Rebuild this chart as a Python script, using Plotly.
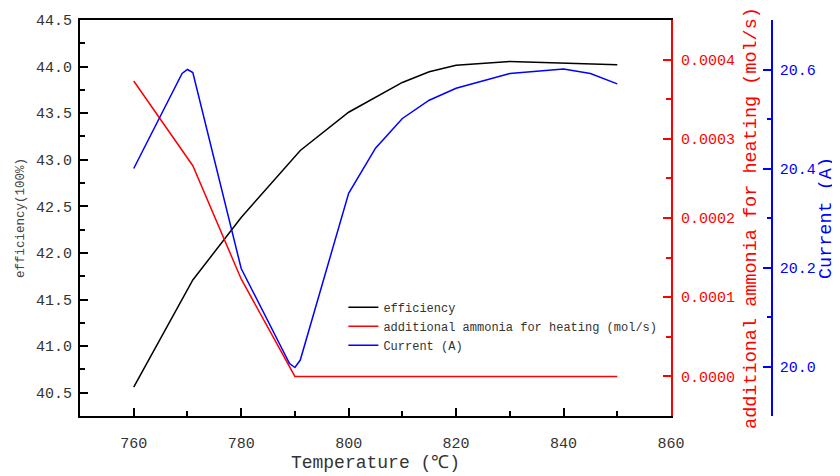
import plotly.graph_objects as go

# Data
temp_eff = [760, 771, 780, 791, 800, 810, 815, 820, 830, 840, 850]
efficiency = [40.56, 41.71, 42.38, 43.10, 43.51, 43.83, 43.945, 44.015, 44.055, 44.035, 44.02]

temp_nh3 = [760, 771, 780, 790, 800, 810, 820, 830, 840, 850]
ammonia = [0.000373, 0.000266, 0.000123, 0.0, 0.0, 0.0, 0.0, 0.0, 0.0, 0.0]

temp_cur = [760, 769, 770, 771, 780, 789, 790, 791, 800, 805, 810, 815, 820, 830, 840, 845, 850]
current = [20.400, 20.592, 20.600, 20.594, 20.198, 20.006, 19.998, 20.013, 20.350, 20.441,
           20.501, 20.538, 20.562, 20.592, 20.601, 20.592, 20.571]

FONT = "'Liberation Mono', 'Courier New', monospace"
RED = "#ff0000"
BLUE = "#0000ff"
GRAY = "#333333"

fig = go.Figure()
fig.add_trace(go.Scatter(x=temp_eff, y=efficiency, mode="lines", name="efficiency",
                         line=dict(color="black", width=1.5), yaxis="y"))
fig.add_trace(go.Scatter(x=temp_nh3, y=ammonia, mode="lines",
                         name="additional ammonia for heating (mol/s)",
                         line=dict(color=RED, width=1.5), yaxis="y2"))
fig.add_trace(go.Scatter(x=temp_cur, y=current, mode="lines", name="Current (A)",
                         line=dict(color=BLUE, width=1.5), yaxis="y3"))

# The page body adds an 8px offset, so the figure is 832x468 and shifted accordingly
PAPER_W = 708
dom_end = 591 / PAPER_W

fig.update_layout(
    width=832, height=468,
    margin=dict(l=72, r=52, t=12, b=60, autoexpand=False),
    plot_bgcolor="white", paper_bgcolor="white",
    font=dict(family=FONT, color=GRAY),
    showlegend=True,
    legend=dict(x=0.372, y=0.311, xanchor="left", yanchor="top",
                font=dict(family=FONT, size=12, color=GRAY),
                bgcolor="rgba(0,0,0,0)", borderwidth=0, tracegroupgap=0),
    xaxis=dict(
        domain=[0, dom_end], range=[750, 860], tick0=760, dtick=20, automargin=False,
        showgrid=False, zeroline=False,
        showline=True, linecolor="black", linewidth=2, mirror=True,
        ticks="inside", ticklen=8, tickwidth=2, tickcolor="black",
        minor=dict(dtick=10, ticks="inside", ticklen=5, tickwidth=2, tickcolor="black"),
        tickfont=dict(family=FONT, size=15, color=GRAY), ticklabelstandoff=12,
        title=dict(text="Temperature (℃)", font=dict(family=FONT, size=18, color=GRAY), standoff=0),
    ),
    yaxis=dict(
        range=[40.25, 44.5], tick0=40.5, dtick=0.5, tickformat=".1f", automargin=False,
        showgrid=False, zeroline=False,
        showline=True, linecolor="black", linewidth=2,
        ticks="inside", ticklen=8, tickwidth=2, tickcolor="black",
        minor=dict(dtick=0.25, ticks="inside", ticklen=5, tickwidth=2, tickcolor="black"),
        tickfont=dict(family=FONT, size=15, color=GRAY), ticklabelstandoff=3,
        title=dict(text="efficiency(100%)", font=dict(family=FONT, size=12.5, color="#444444"), standoff=9),
    ),
    yaxis2=dict(
        overlaying="y", side="right", anchor="x", automargin=False,
        range=[-0.00005, 0.00045], tick0=0, dtick=0.0001, tickformat=".4f",
        showgrid=False, zeroline=False,
        showline=True, linecolor=RED, linewidth=2,
        ticks="inside", ticklen=8, tickwidth=2, tickcolor=RED,
        minor=dict(dtick=0.00005, ticks="inside", ticklen=5, tickwidth=2, tickcolor=RED),
        tickfont=dict(family=FONT, size=15, color=RED), ticklabelstandoff=5,
        title=dict(text="additional ammonia for heating (mol/s)",
                   font=dict(family=FONT, size=18.5, color=RED), standoff=9),
    ),
    yaxis3=dict(
        overlaying="y", side="right", anchor="free", position=(771.7 - 80) / PAPER_W,
        automargin=False,
        range=[19.9, 20.7], tick0=20.0, dtick=0.2, tickformat=".1f",
        showgrid=False, zeroline=False,
        showline=True, linecolor=BLUE, linewidth=2,
        ticks="inside", ticklen=8, tickwidth=2, tickcolor=BLUE,
        minor=dict(dtick=0.1, ticks="inside", ticklen=4, tickwidth=2, tickcolor=BLUE),
        tickfont=dict(family=FONT, size=15, color=BLUE), ticklabelstandoff=4,
        title=dict(text="Current (A)", font=dict(family=FONT, size=18.5, color=BLUE), standoff=1),
    ),
)

fig.write_html("out.html")
